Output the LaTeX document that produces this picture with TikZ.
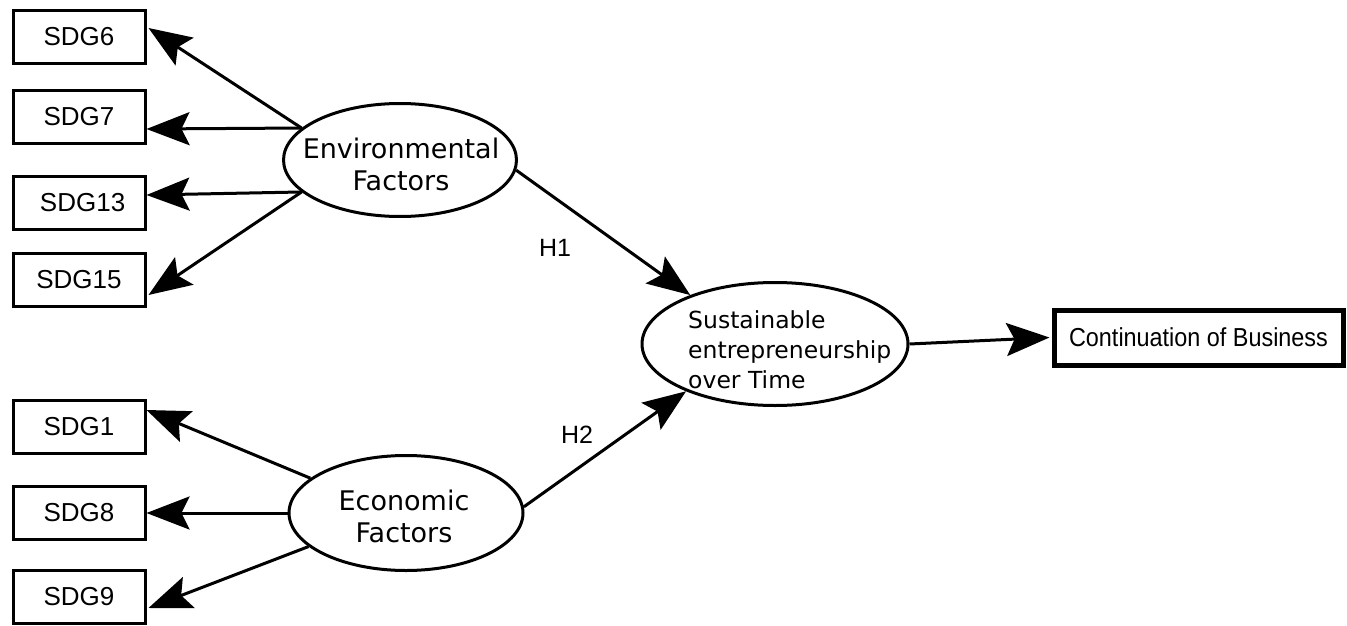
\documentclass[tikz,border=0pt]{standalone}
\usepackage{fontspec}
\newfontfamily\arialf{Liberation Sans}
\newfontfamily\arialc[FakeStretch=0.9]{Liberation Sans}
\newfontfamily\verdf{DejaVu Sans}
\usetikzlibrary{arrows.meta,shapes.geometric,calc}
\begin{document}
\begin{tikzpicture}[x=1pt,y=-1pt,
  sdg/.style={draw,line width=3pt,minimum width=132pt,minimum height=53pt,inner sep=0pt,font=\arialf\fontsize{26}{30}\selectfont},
  lat/.style={draw,ellipse,line width=3pt,inner sep=0pt},
  latxt/.style={align=center,font=\verdf\fontsize{27}{32}\selectfont},
  arr/.style={line width=3pt,-{Stealth[length=43pt,width=33pt,inset=8pt]}},
  hlab/.style={font=\arialf\fontsize{25}{28}\selectfont}]
\useasboundingbox (0,0) rectangle (1347,626);
% boxes
\node[sdg] (sdg6) at (79,37) {SDG6};
\node[sdg] (sdg7) at (79,117) {SDG7};
\node[sdg] (sdg13) at (79,203) {\ SDG13};
\node[sdg] (sdg15) at (79,280) {SDG15};
\node[sdg] (sdg1) at (79,427) {SDG1};
\node[sdg] (sdg8) at (79,513) {SDG8};
\node[sdg] (sdg9) at (79,597) {SDG9};
% latent ellipses
\node[lat,minimum width=233pt,minimum height=113pt] (env) at (400,160) {};
\node[latxt] (envt) at (401,164) {Environmental\\Factors};
\node[lat,minimum width=266pt,minimum height=123pt] (sus) at (775,344) {};
\node[lat,minimum width=234pt,minimum height=115pt] (eco) at (406,513) {};
\node[latxt] (ecot) at (404,516) {Economic\\Factors};
\node[align=left,inner sep=0pt,font=\verdf\fontsize{23.5}{30}\selectfont,anchor=west] (sust) at (688,350) {Sustainable\\entrepreneurship\\over Time};
\node[draw,line width=5pt,minimum width=289pt,minimum height=55pt,inner sep=0pt,font=\arialc\fontsize{26}{30}\selectfont] (cont) at (1198.5,337.5) {Continuation of Business};
% labels
\node[hlab] (h1) at (555,248) {H1};
\node[hlab] (h2) at (577,435) {H2};
% arrows
\draw[arr] (env.162) -- ([yshift=9pt,xshift=2pt]sdg6.east);
\draw[arr] (env.162) -- ([yshift=-12pt]sdg7.east);
\draw[arr] (env.198) -- ([yshift=8pt]sdg13.east);
\draw[arr] (env.198) -- ([yshift=-15pt,xshift=2pt]sdg15.east);
\draw[arr] (eco.160) -- ([yshift=17pt]sdg1.east);
\draw[arr] (eco.180) -- (sdg8.east);
\draw[arr] (eco.199) -- ([yshift=-11pt,xshift=2pt]sdg9.east);
\draw[arr] (env.355) -- (sus.150);
\draw[arr] (eco.3) -- (sus.208);
\draw[arr] (sus.east) -- ([xshift=-2pt]cont.west);
\end{tikzpicture}
\end{document}
